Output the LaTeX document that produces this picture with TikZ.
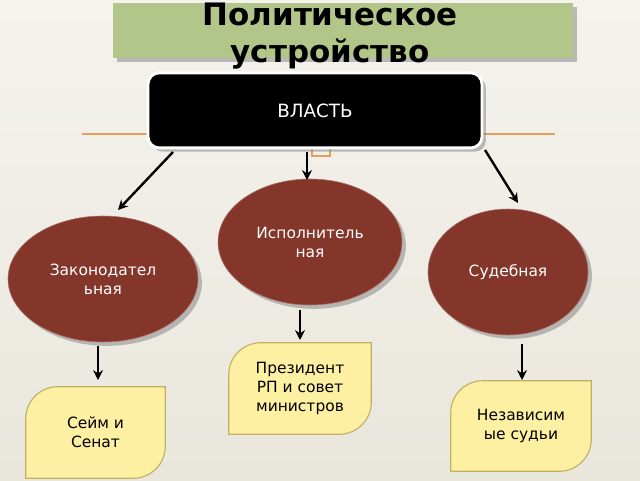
\documentclass[tikz,border=0pt]{standalone}
\usepackage{fontspec}
\setmainfont{DejaVu Sans}
\usepackage{tikz}
\usetikzlibrary{shapes,arrows.meta,calc,shadows}
\definecolor{bgtop}{HTML}{F5F3EE}
\definecolor{bgbot}{HTML}{E9E6DC}
\definecolor{titlegreen}{HTML}{B3C68A}
\definecolor{brown}{HTML}{84362A}
\definecolor{leafyellow}{HTML}{FDF0A2}
\definecolor{leafedge}{HTML}{C2B062}
\definecolor{rule}{HTML}{E0A060}
\tikzstyle{power} = [draw=white, line width=2pt, fill=black, rounded corners=8pt, text=white, font=\fontsize{13}{15}\selectfont, drop shadow]
\tikzstyle{branch} = [draw=brown!70!white, fill=brown, ellipse, text=white, align=center, font=\fontsize{11}{13.5}\selectfont, inner sep=0pt, drop shadow]
\tikzstyle{leafbox} = [rectangle, align=center, inner sep=0pt]
\tikzstyle{leaf} = [draw=leafedge, fill=leafyellow, line width=0.8pt]
\tikzstyle{line} = [draw, line width=1.7pt, -{Stealth[length=7pt,width=7pt]}]

\begin{document}
\begin{tikzpicture}
        \shade[top color=bgtop, bottom color=bgbot] (0,0) rectangle (16,12);
        \useasboundingbox (0,0) rectangle (16,12);
        % title
        \fill[titlegreen, drop shadow] (2.825,10.55) rectangle (14.325,11.925);
        \node[font=\bfseries\fontsize{22}{26}\selectfont, align=center] (title) at (8.25,11.1) {Политическое\\устройство};
        \draw[rule, line width=0.8pt] (2.05,8.65) -- (13.875,8.65);
        \draw[rule, line width=1.5pt] (7.8,8.1) rectangle (8.25,8.55);
        % top box
        \node[power, minimum width=8.35cm, minimum height=1.875cm] (vlast) at (7.875,9.24) {ВЛАСТЬ};
        % branches
        \node[branch, minimum width=4.6cm, minimum height=3.15cm] (isp) at (7.75,5.95) {Исполнитель\\ная};
        \node[branch, minimum width=4.75cm, minimum height=3.15cm] (zak) at (2.575,5.025) {Законодател\\ьная};
        \node[branch, minimum width=4.0cm, minimum height=3.15cm] (sud) at (12.7,5.2) {Судебная};
        % leaves
        \foreach \name/\x/\y/\w/\h in {pres/7.5/2.2875/3.55/2.275, sudi/13.025/1.35/3.5/2.25, seim/2.3875/1.1875/3.475/2.275} {
            \node[leafbox, minimum width=\w cm, minimum height=\h cm] (\name) at (\x,\y) {};
            \draw[leaf] (\name.south west) -- ($(\name.north west)+(0,-0.8)$) arc[start angle=180, end angle=90, radius=0.8]
                -- (\name.north east) -- ($(\name.south east)+(0,0.8)$) arc[start angle=0, end angle=-90, radius=0.8] -- cycle;
        }
        \node[align=center, font=\fontsize{11}{13.5}\selectfont] at (pres) {Президент\\РП и совет\\министров};
        \node[align=center, font=\fontsize{11}{13.5}\selectfont] at (sudi) {Независим\\ые судьи};
        \node[align=center, font=\fontsize{11}{13.5}\selectfont] at (seim) {Сейм и\\Сенат};
        % connectors
        \coordinate (z0) at (4.325,8.2);  \coordinate (z1) at (2.95,6.75);
        \coordinate (i0) at (7.675,8.2);  \coordinate (i1) at (7.675,7.5);
        \coordinate (s0) at (12.125,8.25); \coordinate (s1) at (12.95,6.925);
        \coordinate (zl0) at (2.45,3.35); \coordinate (zl1) at (2.45,2.5);
        \coordinate (il0) at (7.5,4.25);  \coordinate (il1) at (7.5,3.5);
        \coordinate (sl0) at (13.05,3.4); \coordinate (sl1) at (13.05,2.5);
        \path[line] (z0) -- (z1);
        \path[line] (i0) -- (i1);
        \path[line] (s0) -- (s1);
        \path[line] (zl0) -- (zl1);
        \path[line] (il0) -- (il1);
        \path[line] (sl0) -- (sl1);
    \end{tikzpicture}
\end{document}
